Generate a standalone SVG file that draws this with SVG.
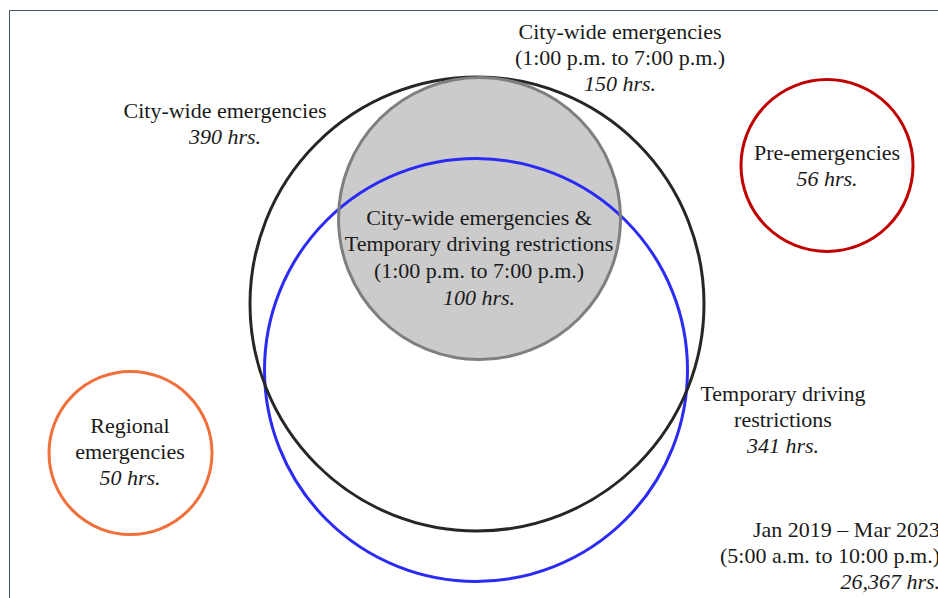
<svg xmlns="http://www.w3.org/2000/svg" width="938" height="598" viewBox="0 0 938 598">
<style>
text { font-family: "Liberation Serif", "Times New Roman", serif; font-size: 22px; fill: #1a1a1a; text-anchor: middle; }
.i { font-style: italic; }
.r { text-anchor: end; }
circle { fill: none; stroke-width: 3; }
</style>
<rect width="938" height="598" fill="#ffffff"/>
<path d="M9.5 598 V10.5 H938" fill="none" stroke="#44546a" stroke-width="1"/>
<g id="cw-tdr-fill"><circle cx="479.5" cy="218.5" r="141" style="fill:#cbcbcb;stroke:none"/></g>
<g id="tdr"><circle cx="476" cy="370" r="211.5" stroke="#2b2bf5"/></g>
<g id="citywide"><circle cx="477" cy="304" r="227" stroke="#262626"/></g>
<g id="cw-1to7"><circle cx="479.5" cy="218.5" r="141" stroke="#7f7f7f"/></g>
<g id="pre"><circle cx="827" cy="165.5" r="86" stroke="#c00000"/></g>
<g id="regional"><circle cx="130.5" cy="453" r="81.5" stroke="#f0703c"/></g>
<g id="labels">
<text x="620" y="39">City-wide emergencies</text>
<text x="620" y="65">(1:00 p.m. to 7:00 p.m.)</text>
<text x="620" y="91" class="i">150 hrs.</text>
<text x="225" y="118">City-wide emergencies</text>
<text x="225" y="144" class="i">390 hrs.</text>
<text x="479" y="225">City-wide emergencies &amp;</text>
<text x="479" y="251">Temporary driving restrictions</text>
<text x="479" y="278">(1:00 p.m. to 7:00 p.m.)</text>
<text x="479" y="305" class="i">100 hrs.</text>
<text x="827" y="160">Pre-emergencies</text>
<text x="827" y="186" class="i">56 hrs.</text>
<text x="783" y="401">Temporary driving</text>
<text x="783" y="427">restrictions</text>
<text x="783" y="453" class="i">341 hrs.</text>
<text x="130" y="433">Regional</text>
<text x="130" y="459">emergencies</text>
<text x="130" y="485" class="i">50 hrs.</text>
<text x="940" y="537" class="r">Jan 2019 – Mar 2023</text>
<text x="940" y="563" class="r">(5:00 a.m. to 10:00 p.m.)</text>
<text x="940" y="589" class="r i">26,367 hrs.</text>
</g>
</svg>
